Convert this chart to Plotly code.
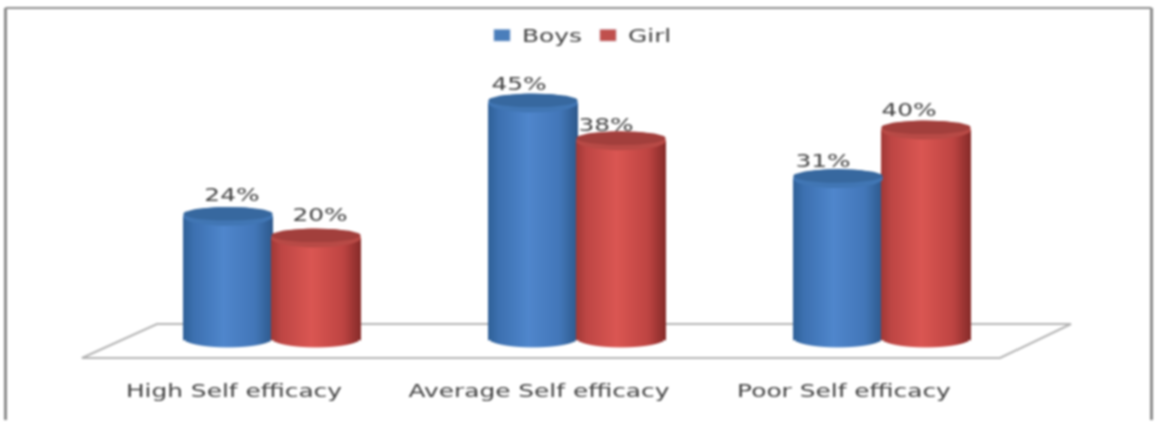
import math
import plotly.graph_objects as go

categories = ["High Self efficacy", "Average Self efficacy", "Poor Self efficacy"]
boys = [24, 45, 31]
girls = [20, 38, 40]
series_names = ["Boys", "Girl"]

W, H = 1155, 423
PLOT_BOTTOM_PX = 360
X0_PX, X_UNIT = 272.0, 305.0
Y0_PX, Y_UNIT = 346.0, 5.4
BASE = 1.5
R_PX, RY_PX = 45.0, 9.5
STRIPS = 30
TICK_SHIFT_PX = -38.0


def xu(px):
    return (px - X0_PX) / X_UNIT


def yu(py):
    return (Y0_PX - py) / Y_UNIT


def mix(stops, t):
    for (a, ca), (b, cb) in zip(stops, stops[1:]):
        if t <= b:
            f = (t - a) / (b - a)
            return "rgb(%d,%d,%d)" % tuple(round(p + (q - p) * f) for p, q in zip(ca, cb))
    return "rgb(%d,%d,%d)" % stops[-1][1]


BLUE = [(0, (47, 96, 150)), (0.12, (60, 112, 176)), (0.45, (79, 134, 204)),
        (0.8, (66, 118, 184)), (1, (44, 88, 138))]
RED = [(0, (160, 56, 54)), (0.12, (190, 70, 68)), (0.45, (218, 86, 82)),
       (0.8, (190, 68, 66)), (1, (132, 42, 40))]
BLUE_CAP, RED_CAP = "#4176b4", "#b84a46"
BLUE_CAP_DARK, RED_CAP_DARK = "#37689f", "#a23f3c"
BAR_OFFSET_PX = {0: -44.0, 1: 44.0}
LABEL_DX = {0: [4, -14, -15], 1: [4, -15, -17]}
LABEL_DY = {0: [20, 17, 16], 1: [21, 14, 18]}


def cylinder_trace(values, offset_px, stops):
    xs, bases, ys, widths, colors = [], [], [], [], []
    strip_px = 2 * R_PX / STRIPS
    for c, v in enumerate(values):
        for s in range(STRIPS):
            t = (s + 0.5) / STRIPS
            drop = RY_PX * math.sqrt(max(0.0, 1 - (2 * t - 1) ** 2)) / Y_UNIT
            xs.append(c + (offset_px - R_PX + (s + 0.5) * strip_px) / X_UNIT)
            bases.append(BASE - drop)
            ys.append(v - BASE + drop)
            widths.append(strip_px / X_UNIT)
            colors.append(mix(stops, t))
    return go.Bar(x=xs, y=ys, base=bases, width=widths, showlegend=False, hoverinfo="skip",
                  marker=dict(color=colors, line=dict(width=0)))


def cap_trace(values, offset_px, color, rx=R_PX, ry=RY_PX, lift=0.0):
    xs, ys = [], []
    for c, v in enumerate(values):
        for k in range(61):
            a = 2 * math.pi * k / 60
            xs.append(c + (offset_px + rx * math.cos(a)) / X_UNIT)
            ys.append(v + (lift + ry * math.sin(a)) / Y_UNIT)
        xs.append(None)
        ys.append(None)
    return go.Scatter(x=xs, y=ys, mode="lines", fill="toself", fillcolor=color,
                      line=dict(width=0, color=color), showlegend=False, hoverinfo="skip")


fig = go.Figure()
fig.add_trace(cylinder_trace(boys, BAR_OFFSET_PX[0], BLUE))
fig.add_trace(cylinder_trace(girls, BAR_OFFSET_PX[1], RED))
fig.add_trace(cap_trace(boys, BAR_OFFSET_PX[0], BLUE_CAP))
fig.add_trace(cap_trace(girls, BAR_OFFSET_PX[1], RED_CAP))
fig.add_trace(cap_trace(boys, BAR_OFFSET_PX[0], BLUE_CAP_DARK, R_PX * 0.995, RY_PX * 0.72, 2.6))
fig.add_trace(cap_trace(girls, BAR_OFFSET_PX[1], RED_CAP_DARK, R_PX * 0.995, RY_PX * 0.72, 2.6))
fig.add_trace(go.Bar(x=[None], y=[None], name=series_names[0], marker_color="#4a7ebb"))
fig.add_trace(go.Bar(x=[None], y=[None], name=series_names[1], marker_color="#c0504d"))

for idx, vals in enumerate([boys, girls]):
    fig.add_trace(go.Scatter(
        x=[c + (BAR_OFFSET_PX[idx] + LABEL_DX[idx][c]) / X_UNIT for c in range(len(vals))],
        y=[v + LABEL_DY[idx][c] / Y_UNIT for c, v in enumerate(vals)],
        mode="text", text=[f"{v}%" for v in vals], textposition="middle center",
        textfont=dict(family="DejaVu Sans", size=18, color="#404040"),
        showlegend=False, hoverinfo="skip"))

floor = "M %f,%f L %f,%f L %f,%f L %f,%f Z" % (
    xu(82), yu(358), xu(157), yu(324), xu(1071), yu(324), xu(1000), yu(358))

fig.update_layout(
    width=W, height=H, barmode="overlay", paper_bgcolor="white", plot_bgcolor="white",
    margin=dict(l=0, r=0, t=0, b=H - PLOT_BOTTOM_PX, pad=0),
    font=dict(family="DejaVu Sans", color="#404040"),
    xaxis=dict(range=[xu(0), xu(W)], tickmode="array",
               tickvals=[c + TICK_SHIFT_PX / X_UNIT for c in range(len(categories))],
               ticktext=categories, showgrid=False, zeroline=False, showline=False,
               ticks="", ticklen=0, ticklabelstandoff=18,
               tickfont=dict(size=18, color="#404040")),
    yaxis=dict(range=[yu(PLOT_BOTTOM_PX), yu(0)], visible=False),
    legend=dict(orientation="h", x=(482 / W), y=(PLOT_BOTTOM_PX - 17) / PLOT_BOTTOM_PX,
                xanchor="left", yanchor="top", font=dict(size=18, color="#404040"),
                entrywidth=61, entrywidthmode="pixels",
                bgcolor="rgba(0,0,0,0)", itemclick=False, itemdoubleclick=False),
    shapes=[
        dict(type="path", path=floor, xref="x", yref="y", layer="below",
             line=dict(color="#b4b4b4", width=2), fillcolor="white"),
        dict(type="line", xref="paper", yref="paper", x0=5.5 / W, x1=5.5 / W,
             y0=(PLOT_BOTTOM_PX - 8) / PLOT_BOTTOM_PX, y1=(PLOT_BOTTOM_PX - 420) / PLOT_BOTTOM_PX,
             line=dict(color="#8c8c8c", width=3)),
        dict(type="line", xref="paper", yref="paper", x0=5.5 / W, x1=1151.5 / W,
             y0=(PLOT_BOTTOM_PX - 8) / PLOT_BOTTOM_PX, y1=(PLOT_BOTTOM_PX - 8) / PLOT_BOTTOM_PX,
             line=dict(color="#8c8c8c", width=2)),
        dict(type="line", xref="paper", yref="paper", x0=1151.5 / W, x1=1151.5 / W,
             y0=(PLOT_BOTTOM_PX - 8) / PLOT_BOTTOM_PX, y1=(PLOT_BOTTOM_PX - 420) / PLOT_BOTTOM_PX,
             line=dict(color="#8c8c8c", width=3)),
    ],
)

POST = """
document.body.style.margin = '0';
var gd = document.getElementById('{plot_id}');
gd.style.filter = 'blur(0.8px)';
function stretchAll() {
  var S = 1.38;
  function st(sel, anchorLeft) {
    gd.querySelectorAll(sel).forEach(function (el) {
      if (el.getAttribute('data-st')) return;
      var b = el.getBBox();
      if (!b.width) return;
      var c = anchorLeft ? b.x : b.x + b.width / 2;
      var t = el.getAttribute('transform') || '';
      el.setAttribute('transform', t + ' translate(' + c + ',0) scale(' + S + ',1) translate(' + (-c) + ',0)');
      el.setAttribute('data-st', '1');
    });
  }
  st('.xtick text', false);
  st('.textpoint text', false);
  st('.legendtext', true);
  st('.legendsymbols path', false);
}
stretchAll();
setTimeout(stretchAll, 60);
setTimeout(stretchAll, 300);
"""

fig.write_html("out.html", config={"displayModeBar": False}, post_script=POST)
